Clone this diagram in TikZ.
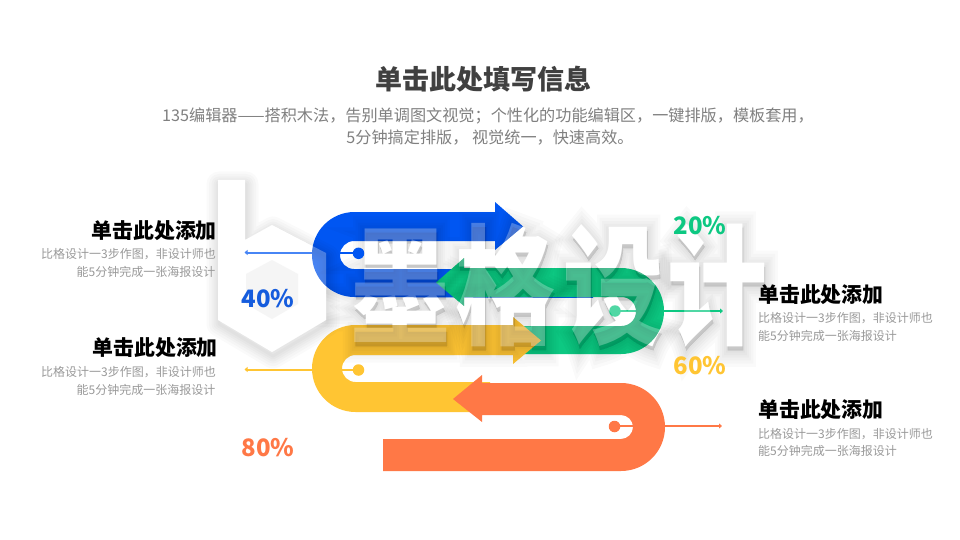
\documentclass[tikz,border=0pt]{standalone}
\usepackage{fontspec}
\setmainfont{Noto Sans CJK SC}
\newfontfamily\wmhaloA{Noto Sans CJK SC}[BoldFeatures={FakeBold=3}]
\newfontfamily\wmhaloB{Noto Sans CJK SC}[BoldFeatures={FakeBold=7}]
\newfontfamily\wmhaloC{Noto Sans CJK SC}[BoldFeatures={FakeBold=11}]
\newfontfamily\wmhaloD{Noto Sans CJK SC}[BoldFeatures={FakeBold=15}]
\newfontfamily\wmhaloE{Noto Sans CJK SC}[BoldFeatures={FakeBold=20}]
\newfontfamily\wmhaloF{Noto Sans CJK SC}[BoldFeatures={FakeBold=25}]
\usetikzlibrary{arrows.meta}
\definecolor{cblue}{HTML}{0056F2}
\definecolor{cpct}{HTML}{155CDD}
\definecolor{cgreen}{HTML}{0DC882}
\definecolor{cyellow}{HTML}{FFC533}
\definecolor{corange}{HTML}{FF7846}
\definecolor{ctitle}{HTML}{404040}
\definecolor{csub}{HTML}{808080}
\definecolor{cdesc}{HTML}{999999}
\newcommand{\bluepath}{(523,226.5) -- (495,250) -- (495,241) -- (354,241) .. controls (346.3,241) and (340,247.3) .. (340,255) .. controls (340,262.7) and (346.3,269) .. (354,269) -- (593,269) -- (593,298) -- (354.5,297) .. controls (331,297) and (312,278) .. (312,254.5) .. controls (312,231) and (331,212) .. (354.5,212) -- (495,212) -- (495,202) -- cycle}
\newcommand{\greenpath}{(436,282.5) -- (464,258) -- (464,268) -- (621,268) .. controls (644.75,268) and (664,287.25) .. (664,311) .. controls (664,334.75) and (644.75,354) .. (621,354) -- (505,354) -- (505,326) -- (621.5,326) .. controls (629.5,326) and (636,319.5) .. (636,311.5) .. controls (636,303.5) and (629.5,297) .. (621.5,297) -- (464,297) -- (464,306) -- cycle}
\newcommand{\yellowpath}{(541,340.5) -- (513,364) -- (513,355) -- (355.5,355) .. controls (348,355) and (342,361) .. (342,368.5) .. controls (342,376) and (348,382) .. (355.5,382) -- (490,382) -- (490,412) -- (355.5,412) .. controls (331.5,412) and (312,392.5) .. (312,368.5) .. controls (312,344.5) and (331.5,325) .. (355.5,325) -- (513,325) -- (513,317) -- cycle}
\newcommand{\orangepath}{(453,399) -- (482,375) -- (482,383) -- (621,383) .. controls (645.3,383) and (665,402.7) .. (665,427) .. controls (665,451.3) and (645.3,471) .. (621,471) -- (383,471) -- (383,439) -- (621,439) .. controls (627.6,439) and (633,433.6) .. (633,427) .. controls (633,420.4) and (627.6,415) .. (621,415) -- (482,415) -- (482,422) -- cycle}
\newcommand{\logopath}{(218,180) -- (245,180) -- (245,240) -- (272,225) -- (326,253) -- (326,320) -- (272,352) -- (218,320) -- cycle}
\newcommand{\wmword}{\scalebox{1}[1.3]{墨\hspace{5pt}格\hspace{8pt}设\hspace{4pt}计}}
\newcommand{\wmshadow}{%
  \begin{scope}[shift={(1,4)}]
    \foreach \lw/\hf in {3/\wmhaloA,7/\wmhaloB,11/\wmhaloC,15/\wmhaloD,20/\wmhaloE,25/\wmhaloF}{
      \path[shadowbit,draw=black,line width=\lw pt,line join=round] \logopath;
      \node[wmtext,shadowbit,font=\fontsize{100}{100}\hf\bfseries] at (558.5,285) {\wmword};
    }
  \end{scope}
}
\tikzset{
  x=1pt,y=-1pt,
  wmtext/.style={inner sep=0pt,font=\fontsize{100}{100}\selectfont\bfseries},
  shadowbit/.style={text=black,opacity=0.02},
  titletext/.style={inner sep=0pt,text=ctitle,font=\fontsize{27}{30}\selectfont\bfseries},
  subtext/.style={inner sep=0pt,text=csub,font=\fontsize{16.15}{20}\selectfont},
  headtext/.style={inner sep=0pt,text=black,font=\fontsize{20.9}{24}\selectfont\bfseries},
  desctext/.style={inner sep=0pt,text=cdesc,font=\fontsize{12}{14}\selectfont},
  pcttext/.style={inner sep=0pt,font=\fontsize{24}{28}\selectfont\bfseries},
  dot/.style={circle,inner sep=0pt,minimum size=11.5pt,fill=#1},
  leader/.style={draw=#1,line width=2pt,-{Triangle[width=5pt,length=3pt]}},
}
\begin{document}
\begin{tikzpicture}
\useasboundingbox[fill=white] (0,0) rectangle (960,540);
% watermark, under everything
\wmshadow
\fill[white] \logopath;
\node[wmtext,text=white] (wmBase) at (558.5,285) {\wmword};
\fill[black!5] (272,260) -- (298,274) -- (298,304) -- (272,319) -- (246,304) -- (246,274) -- cycle;
% header
\node[titletext] (title) at (483,79) {单击此处填写信息};
\node[subtext] (subA) at (488,116) {135编辑器——搭积木法，告别单调图文视觉；个性化的功能编辑区，一键排版，模板套用，};
\node[subtext] (subB) at (490,138) {5分钟搞定排版， 视觉统一，快速高效。};
% bands
\fill[cblue] \bluepath;
\fill[cgreen] \greenpath;
\fill[cyellow] \yellowpath;
\fill[corange] \orangepath;
% leaders
\node[dot=cblue] (dotB) at (358.5,253.3) {};
\node[dot=cgreen] (dotG) at (615,311) {};
\node[dot=cyellow] (dotY) at (358.5,370) {};
\node[dot=corange] (dotO) at (614.5,426.5) {};
\coordinate (endB) at (244.5,252.5);
\coordinate (endG) at (723,311);
\coordinate (endY) at (244.5,369.5);
\coordinate (endO) at (722,426);
\draw[leader=cblue] (dotB.center |- endB) -- (endB);
\draw[leader=cgreen] (dotG.center) -- (endG);
\draw[leader=cyellow] (dotY.center |- endY) -- (endY);
\draw[leader=corange] (dotO.center |- endO) -- (endO);
% labels left
\node[headtext,anchor=east] (hA) at (217,230.5) {单击此处添加};
\node[desctext,anchor=east] (dA1) at (216,254) {比格设计一3步作图，非设计师也};
\node[desctext,anchor=east] (dA2) at (215.5,272) {能5分钟完成一张海报设计};
\node[headtext,anchor=east] (hB) at (218,347.5) {单击此处添加};
\node[desctext,anchor=east] (dB1) at (216,372.5) {比格设计一3步作图，非设计师也};
\node[desctext,anchor=east] (dB2) at (215.5,390) {能5分钟完成一张海报设计};
% labels right
\node[headtext,anchor=west] (hC) at (758,294.5) {单击此处添加};
\node[desctext,anchor=west] (dC1) at (758,318) {比格设计一3步作图，非设计师也};
\node[desctext,anchor=west] (dC2) at (758,336) {能5分钟完成一张海报设计};
\node[headtext,anchor=west] (hD) at (758,409.5) {单击此处添加};
\node[desctext,anchor=west] (dD1) at (758,434) {比格设计一3步作图，非设计师也};
\node[desctext,anchor=west] (dD2) at (758,451) {能5分钟完成一张海报设计};
% watermark veil over the bands
\begin{scope}
  \clip \bluepath \greenpath \yellowpath \orangepath;
  \wmshadow
\end{scope}
\fill[white,opacity=0.28] \logopath;
\node[wmtext,text=white,opacity=0.28] (wmVeil) at (558.5,285) {\wmword};
% percentages
\node[pcttext,text=cpct] (pA) at (268,298.5) {40\%};
\node[pcttext,text=cgreen] (pB) at (700,225.5) {20\%};
\node[pcttext,text=cyellow] (pC) at (700,365.5) {60\%};
\node[pcttext,text=corange] (pD) at (268,447.5) {80\%};
\end{tikzpicture}
\end{document}
